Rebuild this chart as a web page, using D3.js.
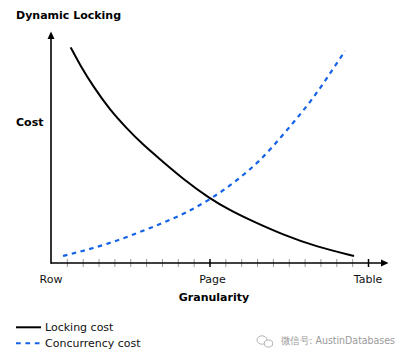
<!DOCTYPE html>
<html><head><meta charset="utf-8">
<script src="https://cdn.jsdelivr.net/npm/d3@7/dist/d3.min.js"></script>
<style>body{margin:0;background:#fff}svg{display:block}text{font-family:"DejaVu Sans",Verdana,sans-serif}</style>
</head><body>
<script>
// Granularity position (0 = Row, 10 = Page, 20 = Table) and cost (0..100)
const lockingX = [1.24, 1.83, 2.67, 3.72, 4.78, 5.82, 6.88, 8.4, 9.97, 11.3, 12.56, 14.64, 16.78, 19.12];
const lockingY = [95.0, 87.2, 77.7, 67.4, 59.3, 52.0, 45.7, 36.6, 28.6, 23.2, 18.9, 12.4, 7.1, 3.1];
const concurrencyX = [0.76, 2.65, 3.91, 5.62, 6.88, 8.58, 10.03, 11.74, 13.19, 14.89, 16.47, 17.92, 18.55];
const concurrencyY = [3.1, 6.6, 9.3, 13.7, 17.2, 22.5, 28.2, 36.6, 45.4, 58.6, 72.2, 86.8, 93.4];
const tickLabels = ["Row", "Page", "Table"];
const tickLabelPos = [0, 10, 20];
const majorTicks = [10, 20];
const seriesNames = ["Locking cost", "Concurrency cost"];

const W = 408, H = 358;
const svg = d3.select("body").append("svg").attr("width", W).attr("height", H);
const x = d3.scaleLinear().domain([0, 20]).range([51, 368]);
const y = d3.scaleLinear().domain([0, 100]).range([263, 36]);

svg.append("text").attr("x", 16).attr("y", 19).attr("font-size", 11).attr("font-weight", "bold").text("Dynamic Locking");
svg.append("text").attr("x", 16).attr("y", 125.5).attr("font-size", 11).attr("font-weight", "bold").text("Cost");

// x axis with ticks
const xAxis = d3.axisBottom(x).tickValues(d3.range(1, 21)).tickSize(4).tickFormat("");
const gx = svg.append("g").attr("transform", `translate(0,${y(0)})`).call(xAxis);
gx.select(".domain").remove();
gx.selectAll(".tick line")
  .attr("y1", -4)
  .attr("stroke", d => majorTicks.includes(d) ? "#000" : "#999")
  .attr("stroke-width", d => majorTicks.includes(d) ? 1.5 : 1);

// axis lines
svg.append("line").attr("x1", x(0)).attr("x2", 384).attr("y1", y(0)).attr("y2", y(0)).attr("stroke", "#000").attr("stroke-width", 1.6);
svg.append("path").attr("d", `M388.5,${y(0)} L381,${y(0) - 3.5} L381,${y(0) + 3.5} Z`).attr("fill", "#000");
svg.append("line").attr("x1", x(0)).attr("x2", x(0)).attr("y1", y(0) + 0.8).attr("y2", 38).attr("stroke", "#000").attr("stroke-width", 1.6);
svg.append("path").attr("d", `M${x(0)},31.5 L${x(0) - 3.5},39 L${x(0) + 3.5},39 Z`).attr("fill", "#000");

// tick labels
svg.selectAll("text.tl").data(tickLabels).enter().append("text")
  .attr("class", "tl")
  .attr("x", (d, i) => x(tickLabelPos[i]) + (i === 1 ? 3 : 0))
  .attr("y", 283).attr("font-size", 11).attr("text-anchor", "middle").attr("fill", "#111").text(d => d);
svg.append("text").attr("x", 214).attr("y", 300.5).attr("font-size", 11).attr("font-weight", "bold").attr("text-anchor", "middle").text("Granularity");

// curves
const lineL = d3.line().x(d => x(d[0])).y(d => y(d[1])).curve(d3.curveBasis);
const lineC = d3.line().x(d => x(d[0])).y(d => y(d[1])).curve(d3.curveMonotoneX);
svg.append("path").datum(lockingX.map((v, i) => [v, lockingY[i]]))
  .attr("d", lineL).attr("fill", "none").attr("stroke", "#000").attr("stroke-width", 2);
svg.append("path").datum(concurrencyX.map((v, i) => [v, concurrencyY[i]]))
  .attr("d", lineC).attr("fill", "none").attr("stroke", "#1463e6").attr("stroke-width", 2.2).attr("stroke-dasharray", "4.5,4.5");

// legend
const leg = svg.append("g");
seriesNames.forEach((name, i) => {
  const ly = 327.3 + i * 16;
  leg.append("line").attr("x1", 16).attr("x2", 41).attr("y1", ly).attr("y2", ly)
    .attr("stroke", i === 0 ? "#000" : "#1463e6").attr("stroke-width", 2)
    .attr("stroke-dasharray", i === 0 ? null : "4.7,4.7");
  leg.append("text").attr("x", 45).attr("y", ly + 4).attr("font-size", 11).attr("fill", "#111").text(name);
});

// watermark
const wm = svg.append("g").attr("fill", "none").attr("stroke", "#aaa").attr("stroke-width", 0.9);
wm.append("ellipse").attr("cx", 262).attr("cy", 340).attr("rx", 5).attr("ry", 4.2);
wm.append("ellipse").attr("cx", 268.5).attr("cy", 343.5).attr("rx", 4.2).attr("ry", 3.5).attr("fill", "#fff");
svg.append("text").attr("x", 281).attr("y", 344).attr("font-size", 10).attr("fill", "#999")
  .attr("textLength", 114).attr("lengthAdjust", "spacingAndGlyphs")
  .attr("font-family", "'Noto Sans CJK SC', 'DejaVu Sans', sans-serif").text("微信号: AustinDatabases");
</script>
</body></html>
